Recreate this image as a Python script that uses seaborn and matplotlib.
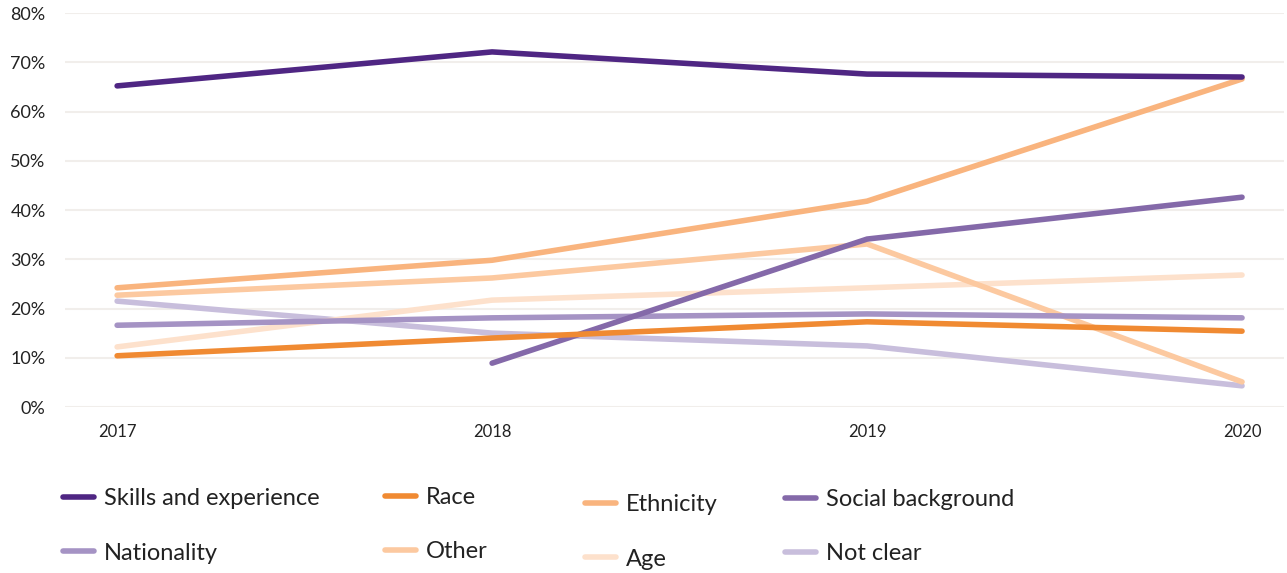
import numpy as np
import pandas as pd
import matplotlib
matplotlib.use("Agg")
import matplotlib.pyplot as plt
import seaborn as sns
from matplotlib.lines import Line2D

years = [2017, 2018, 2019, 2020]
skills = [65.2, 72.1, 67.6, 67.0]
race = [10.4, 14.0, 17.3, 15.4]
ethnicity = [24.2, 29.8, 41.8, 66.6]
social = [np.nan, 8.9, 34.1, 42.6]
nationality = [16.6, 18.1, 18.9, 18.1]
other = [22.7, 26.2, 33.1, 5.1]
age = [12.2, 21.7, 24.2, 26.8]
not_clear = [21.5, 15.0, 12.4, 4.3]

series_names = ["Skills and experience", "Race", "Ethnicity", "Social background",
                "Nationality", "Other", "Age", "Not clear"]
series_vals = [skills, race, ethnicity, social, nationality, other, age, not_clear]
colors = ["#4f2683", "#f08a32", "#f9b47e", "#8469a9",
          "#a593c4", "#fcc9a0", "#fde1cc", "#c8bedc"]

rows = []
for n, vals in zip(series_names, series_vals):
    for y, v in zip(years, vals):
        rows.append({"Year": y, "Value": v, "Category": n})
df = pd.DataFrame(rows).dropna()

sns.set_style("white")
plt.rcParams['font.family'] = ['Lato', 'DejaVu Sans']

fig = plt.figure(figsize=(12.87, 5.73), dpi=100)
ax = fig.add_axes([0.0505, 0.2897, 0.9472, 0.6876])

pal = dict(zip(series_names, colors))
sns.lineplot(data=df, x="Year", y="Value", hue="Category", hue_order=series_names,
             palette=pal, linewidth=4, legend=False, ax=ax, sort=False)
lines = ax.get_lines()
for i, ln in enumerate(lines):
    ln.set_solid_capstyle("round")
    ln.set_zorder(10 - i)

ax.set_ylim(0, 80)
ax.set_xlim(2016.861, 2020.112)
ax.set_yticks(range(0, 81, 10))
ax.set_yticklabels([f"{v}%" for v in range(0, 81, 10)], fontsize=13, color="#222222")
ax.set_xticks(years)
ax.set_xticklabels([str(y) for y in years], fontsize=12, color="#222222")
ax.grid(axis="y", color="#f1eeeb", linewidth=1.5)
ax.grid(axis="x", visible=False)
for s in ax.spines.values():
    s.set_visible(False)
ax.tick_params(axis="both", length=0)
ax.tick_params(axis="y", pad=14)
ax.tick_params(axis="x", pad=12)
ax.set_xlabel("")
ax.set_ylabel("")

handles = [Line2D([0], [0], color=c, lw=4, solid_capstyle="round") for c in colors]
W, H = 1287.0, 573.0
# (column index pair, handle left x px, center y px)
cols = [((0, 4), 63, 526), ((1, 5), 385, 524.5), ((2, 6), 585, 532), ((3, 7), 785, 526.5)]
for (a, b), xpx, ypx in cols:
    leg = fig.legend([handles[a], handles[b]], [series_names[a], series_names[b]],
                     loc="center left", bbox_to_anchor=(xpx / W, 1 - ypx / H),
                     frameon=False, fontsize=17, handlelength=1.3, handletextpad=0.45,
                     labelspacing=1.4, borderpad=0, borderaxespad=0)
    for t in leg.get_texts():
        t.set_color("#222222")

fig.savefig("out.png", dpi=100)
